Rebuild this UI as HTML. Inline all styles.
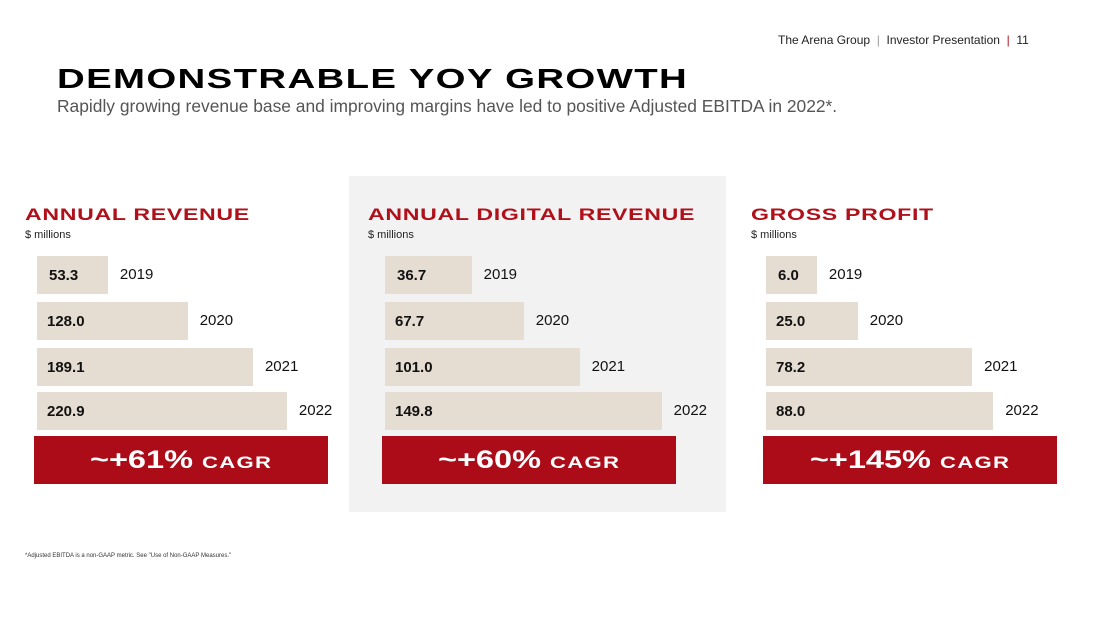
<!DOCTYPE html>
<html><head><meta charset="utf-8">
<style>
body{margin:0;width:1100px;height:619px;background:#fff;position:relative;overflow:hidden;font-family:"Liberation Sans",sans-serif;}
.abs{position:absolute;white-space:nowrap;}
.wide{display:inline-block;transform-origin:left center;font-weight:bold;}
</style></head><body>
<div class="abs" style="left:778px;top:33px;font-size:12px;color:#222;">The Arena Group &nbsp;<span style="color:#999">|</span>&nbsp; Investor Presentation &nbsp;<span style="color:#b0101a">|</span>&nbsp; 11</div>
<div class="abs" style="left:57px;top:63px;font-size:28px;line-height:32px;color:#000;"><span class="wide" style="transform:scaleX(1.37);letter-spacing:1px">DEMONSTRABLE YOY GROWTH</span></div>
<div class="abs" style="left:57px;top:96px;font-size:17.4px;color:#555;">Rapidly growing revenue base and improving margins have led to positive Adjusted EBITDA in 2022*.</div>
<div class="abs" style="left:349px;top:176px;width:377px;height:336px;background:#f2f2f2;"></div>
<div class="abs" style="left:25px;top:553px;font-size:6px;color:#333;">*Adjusted EBITDA is a non-GAAP metric. See "Use of Non-GAAP Measures."</div>
<div id="root"></div>
<script>
const years=["2019","2020","2021","2022"];
const revenue=[53.3,128.0,189.1,220.9];
const digitalRevenue=[36.7,67.7,101.0,149.8];
const grossProfit=[6.0,25.0,78.2,88.0];
const titles=["ANNUAL REVENUE","ANNUAL DIGITAL REVENUE","GROSS PROFIT"];
const cagrs=["~+61%","~+60%","~+145%"];
const panels=[
 {vals:revenue,x:25,bx:37,cx:34,a:14,b:1.068,name:'annual-revenue'},
 {vals:digitalRevenue,x:368,bx:385,cx:382,a:25,b:1.68,name:'digital-revenue'},
 {vals:grossProfit,x:751,bx:766,cx:763,a:38,b:2.15,name:'gross-profit'}
];
const rowY=[256,302,348,392];
const root=document.getElementById('root');
function mk(parent,css,html){const d=document.createElement('div');d.className='abs';d.style.cssText=css;if(html!==undefined)d.innerHTML=html;parent.appendChild(d);return d;}
panels.forEach((p,i)=>{
 const t=mk(root,`left:${p.x}px;top:205px;font-size:17px;color:#b0101a;`,`<span class="wide" style="transform:scaleX(1.36);letter-spacing:0.5px">${titles[i]}</span>`);
 
 
 const u=mk(root,`left:${p.x}px;top:229px;font-size:11px;color:#222;`,'$ millions');
 
 
 p.vals.forEach((v,j)=>{
  const w=p.a+p.b*v;
  const bar=mk(root,`left:${p.bx}px;top:${rowY[j]}px;width:${w}px;height:38px;background:#e6ddd2;`);
  
  
  const lab=mk(bar,`left:${j===0?12:10}px;top:11px;font-size:15px;font-weight:bold;color:#111;`,v.toFixed(1));
  
  
  const yl=mk(root,`left:${p.bx+w+12}px;top:${rowY[j]+10}px;font-size:15px;color:#111;`,years[j]);
  
  
 });
 const c=mk(root,`left:${p.cx}px;top:436px;width:294px;height:48px;background:#ac0c18;color:#fff;text-align:center;line-height:48px;`,
  `<span style="display:inline-block;transform:scaleX(1.3);font-weight:bold;font-size:25px;">${cagrs[i]} <span style="font-size:17px;letter-spacing:1px">CAGR</span></span>`);
 
 
});
</script>
</body></html>
